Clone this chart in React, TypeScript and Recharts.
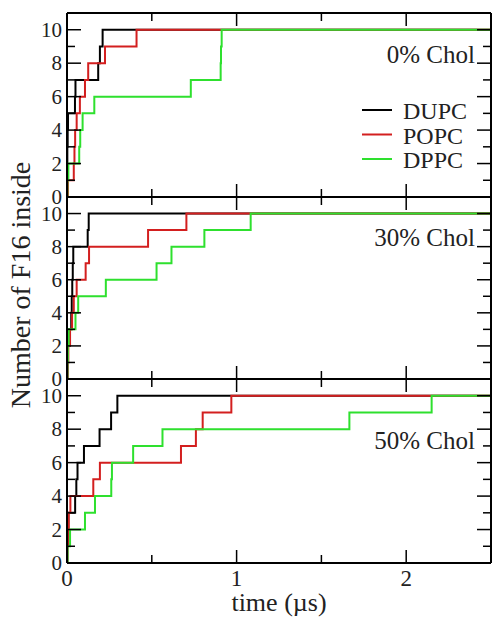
import { LineChart, Line, XAxis, YAxis } from "recharts";

type Pt = [number, number];

// [time (µs), number of F16 inside], per cholesterol content
const dupc0: Pt[] = [[0, 0], [0.002, 3], [0.004, 4], [0.006, 5], [0.047, 6], [0.05, 7], [0.184, 8], [0.194, 9], [0.21, 10], [2.5, 10]];
const popc0: Pt[] = [[0, 0], [0.005, 1], [0.04, 2], [0.044, 3], [0.048, 4], [0.057, 5], [0.076, 6], [0.106, 7], [0.125, 8], [0.224, 9], [0.41, 10], [2.5, 10]];
const dppc0: Pt[] = [[0, 0], [0.002, 1], [0.008, 2], [0.072, 3], [0.078, 4], [0.092, 5], [0.161, 6], [0.73, 7], [0.906, 8], [0.908, 9], [0.912, 10], [2.5, 10]];

const dupc30: Pt[] = [[0, 0], [0.003, 2], [0.006, 3], [0.025, 4], [0.028, 5], [0.031, 6], [0.034, 7], [0.037, 8], [0.122, 9], [0.128, 10], [2.5, 10]];
const popc30: Pt[] = [[0, 0], [0.003, 1], [0.008, 2], [0.018, 3], [0.03, 4], [0.04, 5], [0.057, 6], [0.11, 7], [0.13, 8], [0.478, 9], [0.704, 10], [2.5, 10]];
const dppc30: Pt[] = [[0, 0], [0.002, 1], [0.005, 2], [0.01, 3], [0.05, 4], [0.066, 5], [0.229, 6], [0.528, 7], [0.616, 8], [0.81, 9], [1.083, 10], [2.5, 10]];

const dupc50: Pt[] = [[0, 0], [0.002, 1], [0.005, 2], [0.008, 3], [0.048, 4], [0.055, 5], [0.062, 6], [0.1, 7], [0.192, 8], [0.26, 9], [0.297, 10], [2.5, 10]];
const popc50: Pt[] = [[0, 0], [0.002, 1], [0.005, 2], [0.01, 3], [0.02, 4], [0.155, 5], [0.194, 6], [0.672, 7], [0.76, 8], [0.8, 9], [0.969, 10], [2.5, 10]];
const dppc50: Pt[] = [[0, 0], [0.003, 1], [0.018, 2], [0.106, 3], [0.165, 4], [0.261, 5], [0.265, 6], [0.39, 7], [0.563, 8], [1.665, 9], [2.15, 10], [2.5, 10]];

const lipids = ["DUPC", "POPC", "DPPC"];
const panelLabels = ["0% Chol", "30% Chol", "50% Chol"];
const yTicks = [0, 1, 2, 3, 4, 5, 6, 7, 8, 9, 10];
const xTicks = [0, 0.5, 1, 1.5, 2, 2.5];
const xTickLabels = ["0", "1", "2"];

const COLORS = ["#000000", "#d31f1f", "#2ee02e"];
const FONT = "'Liberation Serif', 'DejaVu Serif', serif";
const PLOT_LEFT = 67;
const PLOT_RIGHT = 491;

const panels = [
  { series: [dupc0, popc0, dppc0], top: 0, height: 210, mb: 12, labelY: 63 },
  { series: [dupc30, popc30, dppc30], top: 184, height: 208, mb: 12, labelY: 62 },
  { series: [dupc50, popc50, dppc50], top: 366, height: 251, mb: 53, labelY: 83 },
];

const YTick = (props: any) => {
  const { y, payload, side } = props;
  const v = payload.value;
  const major = v % 2 === 0;
  const len = major ? 14 : 8;
  const x0 = side === "left" ? PLOT_LEFT : PLOT_RIGHT;
  const x1 = side === "left" ? x0 + len : x0 - len;
  return (
    <g>
      <line x1={x0} x2={x1} y1={y} y2={y} stroke="#000" strokeWidth={1.5} />
      {side === "left" && major && (
        <text x={62} y={y} dy="0.34em" textAnchor="end" fontFamily={FONT} fontSize={21} fill="#222">
          {v}
        </text>
      )}
    </g>
  );
};

const XTick = (props: any) => {
  const { x, payload, lineY, dir, showLabel } = props;
  const v = payload.value;
  const major = Number.isInteger(v);
  const len = major ? 13 : 8;
  return (
    <g>
      <line x1={x} x2={x} y1={lineY} y2={lineY + dir * len} stroke="#000" strokeWidth={1.5} />
      {showLabel && major && (
        <text x={x} y={lineY + 23} textAnchor="middle" fontFamily={FONT} fontSize={23} fill="#222">
          {xTickLabels[v]}
        </text>
      )}
    </g>
  );
};

function Panel({ idx }: { idx: number }) {
  const p = panels[idx];
  const plotTop = 13;
  const plotBottom = p.height - p.mb - 1;
  const last = idx === panels.length - 1;
  return (
    <div style={{ position: "absolute", left: 0, top: p.top }}>
      <LineChart width={492} height={p.height} margin={{ top: 12, right: 0, bottom: p.mb, left: 0 }}>
        <XAxis
          dataKey="t"
          type="number"
          domain={[0, 2.5]}
          ticks={xTicks}
          allowDataOverflow
          height={1}
          interval={0}
          axisLine={{ stroke: "#000", strokeWidth: 2 }}
          tickLine={false}
          tick={(tp: any) => <XTick {...tp} lineY={plotBottom} dir={-1} showLabel={last} />}
        />
        <XAxis
          xAxisId="top"
          orientation="top"
          dataKey="t"
          type="number"
          domain={[0, 2.5]}
          ticks={xTicks}
          allowDataOverflow
          height={1}
          interval={0}
          axisLine={{ stroke: "#000", strokeWidth: 2 }}
          tickLine={false}
          tick={(tp: any) => <XTick {...tp} lineY={plotTop} dir={1} showLabel={false} />}
        />
        <YAxis
          type="number"
          domain={[0, 11]}
          ticks={yTicks}
          allowDataOverflow
          width={67}
          interval={0}
          axisLine={{ stroke: "#000", strokeWidth: 2 }}
          tickLine={false}
          tick={(tp: any) => <YTick {...tp} side="left" />}
        />
        <YAxis
          yAxisId="right"
          orientation="right"
          type="number"
          domain={[0, 11]}
          ticks={yTicks}
          allowDataOverflow
          width={1}
          interval={0}
          axisLine={{ stroke: "#000", strokeWidth: 2 }}
          tickLine={false}
          tick={(tp: any) => <YTick {...tp} side="right" />}
        />
        {p.series.map((s, i) => (
          <Line
            key={lipids[i]}
            name={lipids[i]}
            data={s.map(([t, n]) => ({ t, n }))}
            dataKey="n"
            type="stepAfter"
            stroke={COLORS[i]}
            strokeWidth={2}
            dot={false}
            activeDot={false}
            isAnimationActive={false}
          />
        ))}
      </LineChart>
    </div>
  );
}

export default function App() {
  return (
    <div style={{ position: "absolute", left: 0, top: 0, width: 492, height: 617, background: "#fff", overflow: "hidden" }}>
      {panels.map((_, i) => (
        <Panel key={i} idx={i} />
      ))}
      <svg width={492} height={617} style={{ position: "absolute", left: 0, top: 0, pointerEvents: "none" }}>
        {panels.map((p, i) => (
          <text key={i} x={475} y={p.top + p.labelY} textAnchor="end" fontFamily={FONT} fontSize={25} fill="#222">
            {panelLabels[i]}
          </text>
        ))}
        {lipids.map((name, i) => (
          <g key={name}>
            <line x1={362} x2={392} y1={110 + i * 24.5} y2={110 + i * 24.5} stroke={COLORS[i]} strokeWidth={2} />
            <text x={403} y={119 + i * 24.5} fontFamily={FONT} fontSize={24} fill="#222">
              {name}
            </text>
          </g>
        ))}
        <text
          x={30}
          y={285}
          transform="rotate(-90, 30, 285)"
          textAnchor="middle"
          fontFamily={FONT}
          fontSize={28}
          fill="#222"
        >
          Number of F16 inside
        </text>
        <text x={279} y={611} textAnchor="middle" fontFamily={FONT} fontSize={26} fill="#222">
          time (µs)
        </text>
      </svg>
    </div>
  );
}
